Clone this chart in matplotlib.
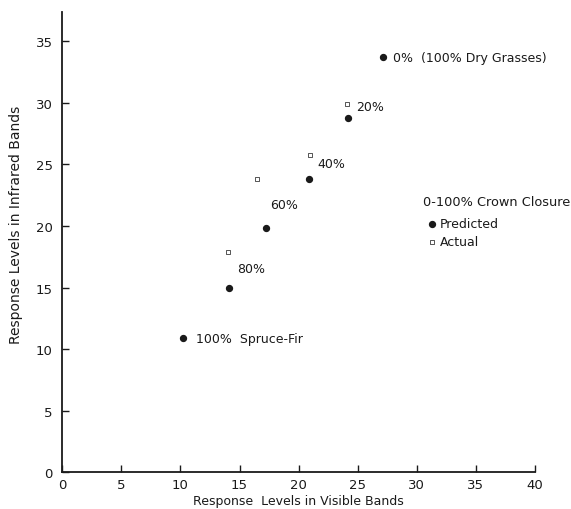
import matplotlib.pyplot as plt
import numpy as np

# ==============================================
# DADOS
# ==============================================
closure_labels = ["0%  (100% Dry Grasses)", "20%", "40%", "60%", "80%", "100%  Spruce-Fir"]
pred_visible = [27.1, 24.2, 20.9, 17.2, 14.1, 10.2]
pred_infrared = [33.7, 28.8, 23.8, 19.8, 15.0, 10.9]

act_visible = [24.1, 21.0, 16.5, 14.0]
act_infrared = [29.9, 25.8, 23.8, 17.9]

x_ticks = [0, 5, 10, 15, 20, 25, 30, 35, 40]
y_ticks = [0, 5, 10, 15, 20, 25, 30, 35]

# deslocamento dos rótulos (pixels) em relação ao ponto previsto
label_offsets = [(10, 0), (8, 11), (8, 16), (5, 24), (8, 19), (13, 0)]

# ==============================================
# FIGURA
# ==============================================
plt.rcParams['font.family'] = ['DejaVu Sans']
ink = "#1a1a1a"

fig = plt.figure(figsize=(5.71, 5.10), dpi=100)
ax = fig.add_axes([0.109, 0.072, 0.828, 0.903])

ax.scatter(pred_visible, pred_infrared, s=18, color=ink, marker="o",
           label="Predicted", zorder=3)
ax.scatter(act_visible, act_infrared, s=12, facecolor="white", edgecolor="#555555",
           linewidth=0.7, marker="s", label="Actual", zorder=3)

for x, y, txt, off in zip(pred_visible, pred_infrared, closure_labels, label_offsets):
    ax.annotate(txt, xy=(x, y), xytext=off, textcoords="offset pixels",
                ha="left", va="center", fontsize=9, color=ink)

ax.set_xlim(0, 40)
ax.set_ylim(0, 37.4)
ax.set_xticks(x_ticks)
ax.set_yticks(y_ticks)
ax.tick_params(direction="in", length=5, width=1, labelsize=9.5, colors=ink)
ax.tick_params(axis="x", pad=4)
ax.tick_params(axis="y", pad=7)
for side in ["top", "right"]:
    ax.spines[side].set_visible(False)
for side in ["left", "bottom"]:
    ax.spines[side].set_linewidth(1.3)
    ax.spines[side].set_color(ink)

ax.set_xlabel("Response  Levels in Visible Bands", fontsize=9, color=ink, labelpad=2)
ax.set_ylabel("Response Levels in Infrared Bands", fontsize=10, color=ink, labelpad=6)
ax.yaxis.set_label_coords(-0.082, 0.54)

# legenda
ax.text(0.763, 0.587, "0-100% Crown Closure", transform=ax.transAxes,
        ha="left", va="center", fontsize=9.3, color=ink)
leg = ax.legend(loc="upper left", bbox_to_anchor=(0.753, 0.573), frameon=False,
                fontsize=9, handletextpad=0.2, handlelength=0.8,
                borderpad=0.2, labelspacing=0.4)
plt.setp(leg.get_texts(), color=ink)

fig.savefig("out.png", dpi=100)
